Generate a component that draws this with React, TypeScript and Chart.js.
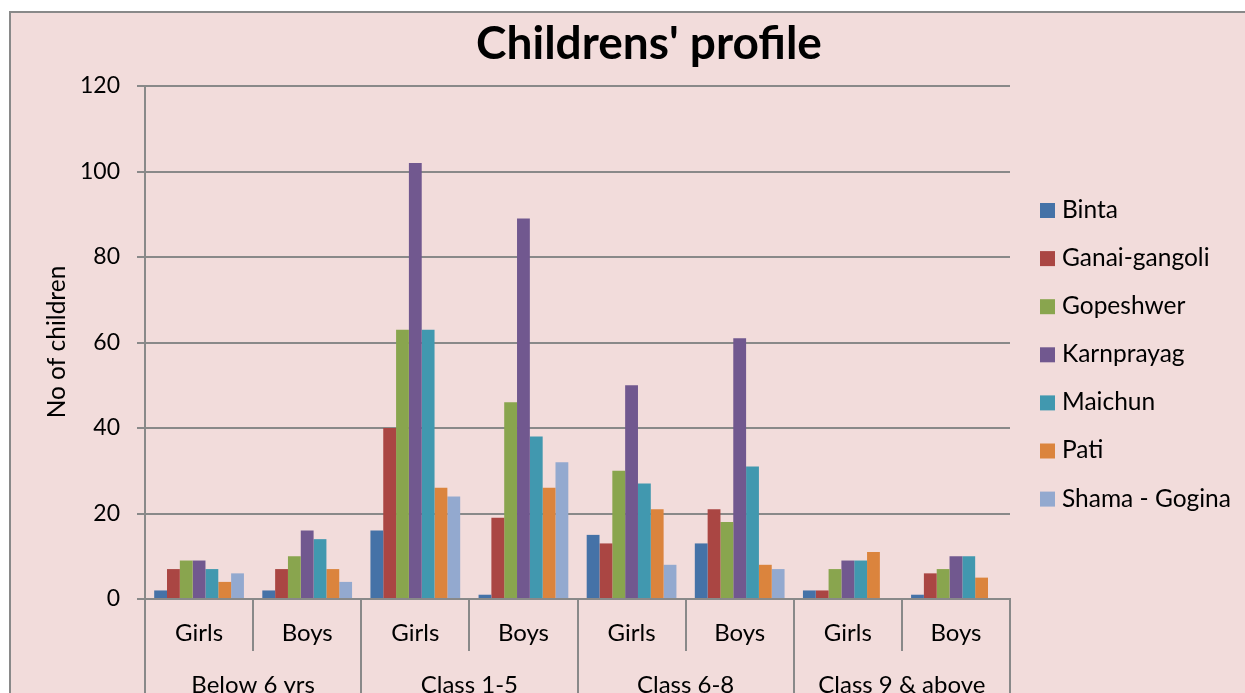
import React, { useEffect, useRef } from "react";
import { Chart, registerables } from "chart.js";

Chart.register(...registerables);

const groups = ["Below 6 yrs", "Class 1-5", "Class 6-8", "Class 9 & above"];
const genders = ["Girls", "Boys"];
const categories = ["Below 6 yrs Girls", "Below 6 yrs Boys", "Class 1-5 Girls", "Class 1-5 Boys", "Class 6-8 Girls", "Class 6-8 Boys", "Class 9 & above Girls", "Class 9 & above Boys"];

const seriesNames = ["Binta", "Ganai-gangoli", "Gopeshwer", "Karnprayag", "Maichun", "Pati", "Shama - Gogina"];
const seriesColors = ["#4572A7", "#AA4643", "#89A54E", "#71588F", "#4198AF", "#DB843D", "#93A9CF"];

const binta = [2, 2, 16, 1, 15, 13, 2, 1];
const ganaiGangoli = [7, 7, 40, 19, 13, 21, 2, 6];
const gopeshwer = [9, 10, 63, 46, 30, 18, 7, 7];
const karnprayag = [9, 16, 102, 89, 50, 61, 9, 10];
const maichun = [7, 14, 63, 38, 27, 31, 9, 10];
const pati = [4, 7, 26, 26, 21, 8, 11, 5];
const shamaGogina = [6, 4, 24, 32, 8, 7, 0, 0];

const seriesValues = [binta, ganaiGangoli, gopeshwer, karnprayag, maichun, pati, shamaGogina];

const yTicks = [0, 20, 40, 60, 80, 100, 120];

const FONT = "Lato, 'Noto Sans', sans-serif";
const BG = "#F2DCDB";
const LINE = "#898989";

const decorPlugin = {
  id: "decor",
  beforeDraw(chart: any) {
    const ctx = chart.ctx;
    ctx.save();
    ctx.fillStyle = "#ffffff";
    ctx.fillRect(0, 0, chart.width, chart.height);
    ctx.fillStyle = BG;
    ctx.fillRect(10, 12, chart.width - 10, chart.height - 12);
    ctx.strokeStyle = LINE;
    ctx.lineWidth = 2;
    ctx.strokeRect(10, 12, chart.width + 20, chart.height + 20);
    ctx.restore();
  },
  afterDraw(chart: any) {
    const ctx = chart.ctx;
    const xs = chart.scales.x;
    const area = chart.chartArea;
    ctx.save();
    // title
    ctx.fillStyle = "#000";
    ctx.textAlign = "center";
    ctx.textBaseline = "middle";
    ctx.font = `bold 46px ${FONT}`;
    ctx.fillText("Childrens' profile", 649, 44);
    // y title
    ctx.save();
    ctx.translate(57, 342);
    ctx.rotate(-Math.PI / 2);
    ctx.font = `24.5px ${FONT}`;
    ctx.fillText("No of children", 0, 0);
    ctx.restore();
    // x labels
    const n = categories.length;
    const w = (area.right - area.left) / n;
    ctx.strokeStyle = LINE;
    ctx.lineWidth = 2;
    for (let i = 0; i <= n; i++) {
      const x = Math.round(area.left + i * w);
      ctx.beginPath();
      ctx.moveTo(x, area.bottom);
      ctx.lineTo(x, i % 2 === 0 ? chart.height : area.bottom + 52);
      ctx.stroke();
    }
    ctx.font = `24px ${FONT}`;
    for (let i = 0; i < n; i++) {
      const cx = xs.getPixelForValue(i);
      ctx.fillText(genders[i % 2], cx, 633);
    }
    for (let g = 0; g < groups.length; g++) {
      const cx = (xs.getPixelForValue(g * 2) + xs.getPixelForValue(g * 2 + 1)) / 2;
      ctx.fillText(groups[g], cx, 685);
    }
    // legend
    ctx.textAlign = "left";
    ctx.font = `24.5px ${FONT}`;
    for (let s = 0; s < seriesNames.length; s++) {
      const y = 210 + s * 48.1;
      ctx.fillStyle = seriesColors[s];
      ctx.fillRect(1040, y - 7, 15, 15);
      ctx.fillStyle = "#000";
      ctx.fillText(seriesNames[s], 1062, y);
    }
    ctx.restore();
  },
};

export default function App() {
  const ref = useRef<HTMLCanvasElement>(null);
  useEffect(() => {
    if (!ref.current) return;
    const chart = new Chart(ref.current, {
      type: "bar",
      data: {
        labels: categories,
        datasets: seriesNames.map((name, i) => ({
          label: name,
          data: seriesValues[i],
          backgroundColor: seriesColors[i],
          borderWidth: 0,
          categoryPercentage: 0.83,
          barPercentage: 1,
        })),
      },
      options: {
        animation: false,
        responsive: false,
        maintainAspectRatio: false,
        devicePixelRatio: 1,
        layout: { padding: { left: 0, right: 235, top: 86, bottom: 131 } },
        plugins: {
          legend: { display: false },
          title: { display: false },
          tooltip: { enabled: false },
        },
        scales: {
          x: {
            type: "category",
            grid: { display: false },
            ticks: { display: false },
            border: { display: true, color: LINE, width: 2 },
            afterFit(scale: any) {
              scale.height = 0;
            },
          },
          y: {
            min: 0,
            max: 120,
            afterBuildTicks(scale: any) {
              scale.ticks = yTicks.map((v) => ({ value: v }));
            },
            grid: { color: LINE, lineWidth: 2, tickLength: 8 },
            border: { display: true, color: LINE, width: 2 },
            ticks: {
              color: "#000",
              padding: 17,
              font: { family: FONT, size: 23 },
            },
            afterFit(scale: any) {
              scale.width = 145;
            },
          },
        },
      },
      plugins: [decorPlugin],
    });
    return () => chart.destroy();
  }, []);
  return (
    <div style={{ position: "fixed", left: 0, top: 0, width: 1245, height: 693, overflow: "hidden" }}>
      <canvas ref={ref} width={1245} height={730} style={{ width: 1245, height: 730, display: "block" }} />
    </div>
  );
}
